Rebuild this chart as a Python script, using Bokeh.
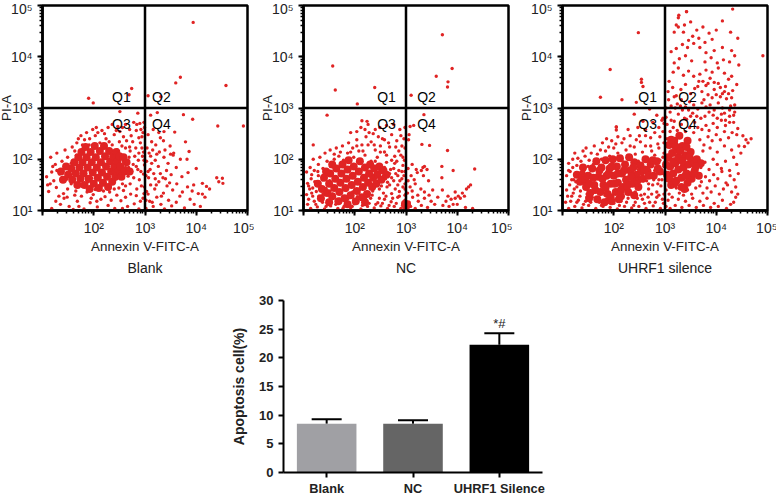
from bokeh.plotting import figure
from bokeh.layouts import column, row
from bokeh.models import Span, Spacer, Title, Whisker, ColumnDataSource, FixedTicker, LogTicker, Range1d, FactorRange
from bokeh.core.properties import value
from bokeh.embed import file_html
from bokeh.resources import INLINE

# Flow cytometry events as (log10 Annexin, log10 PI) in hundredths
blank_events = [
(118,104),(135,112),(152,108),(168,118),(181,103),(193,115),(207,107),(214,122),(228,110),(241,104),(253,119),(266,108),(279,113),(288,103),(296,124),(148,126),(176,128),(199,131),(222,127),(245,130),(262,126),(283,129),
(112,137),(127,145),(141,133),(156,152),(165,138),(178,147),(189,156),(203,141),(216,150),(231,136),(237,155),(249,144),(258,139),(271,152),(284,142),(293,148),(298,133),(122,158),(147,161),(172,160),(196,163),(225,165),(244,162),(267,167),(289,160),
(108,166),(118,175),(133,171),(143,182),(154,168),(161,178),(169,188),(184,172),(211,176),(234,180),(252,172),(262,184),(274,176),(286,180),(297,171),(125,190),(138,196),(149,204),(156,192),(166,208),(258,195),(269,204),(277,190),(287,198),(295,206),(299,189),
(116,204),(128,212),(144,218),(158,224),(167,232),(176,214),(182,238),(191,228),(203,246),(212,232),(224,240),(236,228),(246,218),(255,226),(264,236),(271,216),(282,222),(291,232),(297,214),(175,246),(186,252),(198,258),(216,256),(228,262),(240,248),(251,254),(262,268),(273,246),(283,256),(294,244),(299,262),
(205,262),(221,250),(236,268),(247,264),(258,244),(278,272),(290,270),(180,222),(196,216),(270,224),(288,212),
(302,104),(309,118),(316,108),(323,126),(331,112),(338,103),(346,120),(352,109),(361,116),(368,128),(377,105),(388,122),(396,112),(408,108),(417,126),(404,133),(392,138),
(303,137),(311,150),(319,142),(327,156),(336,134),(343,148),(354,140),(362,152),(373,136),(383,146),(395,150),(412,132),(426,142),
(302,168),(310,180),(317,172),(326,186),(335,164),(342,178),(351,170),(361,184),(372,166),(384,174),
(303,196),(311,206),(320,198),(328,214),(337,204),(345,192),(355,208),(304,222),(313,234),(321,228),(330,242),(339,218),(349,226),(306,248),(316,258),(327,252),(336,236),
(394,467),(369,360),(360,349),(458,344),(190,319),(199,310),(274,338),(269,326),(306,324),(331,322),(251,293),(286,290),(311,286),(324,291),(375,287),(393,278),(442,265),(492,265),(358,253),(337,254),(379,234),(386,215),(369,200),(400,182),(440,164),(451,163),(444,156),(452,153),(412,153),(420,147),(356,212),(350,210),(382,200),
(126,118),(142,124),(160,102),(163,130),(187,136),(206,118),(219,138),(234,120),(256,104),(272,132),(291,118),(299,146),(115,152),(132,128),(149,142),(171,108),(195,124),(240,142),(262,148),(278,164),(292,176),(280,206),(268,184),(250,234),(262,222),(276,234),(288,242),(294,222),(298,198),(283,186),(256,152),(241,172),(120,186),(136,160),(150,172),(128,178),(110,150),(163,216),(178,228),(170,240),(192,240),(208,252),(230,234),(244,256),(256,262),(270,258),(284,268),(296,252),(298,272),(292,258),(302,120),(306,132),(314,116),(320,162),(330,172),(340,162),(348,154),(306,176),(313,192),(322,150),(308,212),(315,218),(323,210),(307,164),(332,128),
]
blank_dense = [
(150,170),(156,182),(158,160),(162,194),(165,172),(168,150),(170,204),(172,184),(174,162),(176,214),(178,194),(180,172),(182,150),(184,224),(186,204),(188,184),(190,162),(192,142),(194,214),(196,194),(198,174),(200,152),(202,226),(204,204),(206,184),(208,164),(210,144),(212,216),(214,194),(216,174),(218,154),(220,226),(222,206),(224,186),(226,166),(228,146),(230,216),(232,196),(234,176),(236,156),(238,206),(240,186),(242,166),(244,214),(246,196),(248,176),(250,206),(252,186),(254,166),(258,204),(260,176),(264,194),(270,176),(146,186),(140,160),(136,176),
]
nc_events = [
(108,112),(114,104),(121,118),(127,107),(134,124),(141,103),(147,114),(153,109),(160,126),(167,104),(172,116),(179,108),(186,122),(192,105),(199,113),(205,127),(212,103),(218,116),(225,108),(231,124),(238,105),(245,115),(251,109),(258,122),(264,104),(271,117),(277,108),(284,126),(290,104),(296,114),(299,105),(298,120),
(106,131),(112,142),(118,128),(125,137),(131,148),(138,132),(144,143),(152,138),(158,147),(171,135),(183,139),(196,136),(209,141),(222,134),(235,138),(248,142),(256,134),(263,146),(272,133),(279,142),(287,137),(294,146),(299,131),
(108,153),(115,162),(122,156),(129,168),(137,160),(145,172),(151,158),(236,166),(247,158),(256,168),(264,155),(272,164),(280,172),(288,158),(296,168),(298,152),
(106,175),(113,184),(121,178),(129,190),(138,182),(146,196),(153,186),(160,200),(169,206),(178,198),(186,212),(198,204),(208,216),(220,208),(232,196),(244,204),(252,186),(262,194),(270,180),(278,192),(286,178),(294,188),(298,176),
(119,200),(132,204),(142,212),(152,218),(164,222),(176,226),(188,232),(196,222),(204,238),(214,228),(222,244),(232,234),(240,218),(250,226),(258,214),(268,224),(278,206),(286,216),(294,204),(298,222),
(192,252),(204,254),(212,262),(220,258),(236,250),(246,244),(258,238),(272,248),(282,236),(290,246),(296,240),(214,275),(226,268),(249,262),(262,266),(276,268),(288,258),(298,262),
(302,104),(306,116),(309,108),(313,126),(318,104),(324,118),(330,110),(336,124),(342,106),(349,118),(356,112),(362,126),(303,134),(308,146),(312,138),(318,152),(323,130),(329,142),(336,136),(345,130),(352,140),(304,158),(310,168),(316,160),(322,174),(334,168),(344,158),(304,182),(312,190),(320,180),(330,178),(333,184),(336,186),(341,180),
(372,110),(378,118),(384,108),(388,122),(392,112),(396,124),(402,128),(406,124),(410,134),(414,128),(418,142),(422,146),(426,150),(400,112),(416,106),(430,104),(396,136),(382,128),(371,140),(370,164),
(371,443),(157,382),(390,377),(359,362),(382,351),(381,341),(162,335),(239,340),(310,325),(205,308),(146,286),(335,287),(308,264),(315,266),(224,274),(119,228),(381,217),(434,181),(392,178),(370,186),(346,227),(331,229),(306,248),(305,238),
(110,122),(116,134),(124,112),(130,128),(137,116),(144,108),(150,120),(156,132),(163,112),(170,122),(177,104),(183,116),(189,128),(195,108),(202,120),(208,134),(215,110),(221,124),(228,114),(234,130),(241,112),(248,124),(254,114),(261,128),(267,110),(274,124),(281,114),(287,128),(293,110),(298,130),(110,148),(118,144),(126,156),(134,146),(140,168),(148,150),(128,176),(116,170),(240,150),(252,148),(260,162),(268,150),(276,158),(284,150),(292,162),(298,142),(248,176),(258,184),(268,172),(276,182),(284,168),(292,176),(240,196),(250,214),(262,208),(272,198),(282,196),(290,208),(297,198),(184,198),(172,214),(160,210),(192,214),(204,226),(216,216),(226,228),(238,228),(254,240),(266,232),(280,224),(292,226),(228,252),(240,258),
]
nc_dense = [
(128,152),(136,142),(140,164),(146,134),(150,152),(152,172),(156,128),(160,144),(162,162),(164,182),(168,118),(170,136),(172,154),(174,172),(176,190),(180,124),(182,144),(184,162),(186,180),(188,198),(192,130),(194,150),(196,168),(198,186),(202,118),(204,138),(206,156),(208,176),(210,196),(214,126),(216,146),(218,164),(220,184),(224,132),(226,154),(228,172),(230,190),(234,146),(236,164),(238,182),(242,152),(244,170),(248,186),(252,160),(256,178),(262,170),(134,124),(150,116),(186,112),(220,116),(300,108),(298,113),(302,112),(144,176),(156,190),
]
uhrf1_events = [
(106,116),(112,104),(118,128),(124,108),(131,120),(138,105),(145,118),(151,110),(158,126),(165,104),(172,116),(179,108),(186,122),(193,106),(200,114),(207,103),(214,118),(221,108),(228,124),(235,105),(242,116),(249,108),(256,122),(263,104),(270,116),(277,109),(284,126),(291,104),(297,114),
(108,140),(114,150),(121,134),(128,146),(135,138),(142,152),(148,132),(242,136),(252,146),(260,132),(268,142),(276,150),(284,136),(292,148),(298,132),
(108,168),(115,176),(122,160),(130,172),(137,182),(144,164),(150,186),(245,162),(256,172),(264,158),(272,168),(280,178),(288,160),(296,172),(298,186),
(112,192),(120,200),(128,188),(136,196),(144,206),(152,198),(160,190),(168,210),(176,200),(184,216),(192,206),(200,222),(208,212),(216,198),(224,218),(232,206),(240,224),(248,196),(256,214),(264,202),(272,226),(280,208),(288,222),(296,204),(298,232),
(124,212),(146,222),(162,226),(178,232),(186,240),(196,236),(208,244),(220,240),(232,246),(244,238),(252,234),(262,246),(272,242),(280,252),(290,244),(296,254),(205,257),(228,258),(247,262),(262,258),(276,272),(288,262),(294,276),
(205,263),(240,288),(257,274),(270,298),(284,286),(296,280),(298,270),
(302,108),(306,120),(310,104),(314,126),(320,110),(326,122),(333,106),(340,118),(347,110),(354,124),(361,106),(368,118),(375,110),(382,124),(389,106),(396,114),(404,108),(412,120),(420,104),(428,112),(434,116),(438,126),
(374,134),(382,144),(390,136),(398,148),(406,132),(414,142),(422,150),(430,136),(438,146),(442,132),(371,156),(379,166),(387,158),(395,170),(403,162),(411,176),(419,154),(427,168),(435,160),(443,172),
(370,184),(378,194),(386,180),(394,200),(402,190),(410,182),(418,196),(426,178),(434,204),(440,190),(448,212),(455,225),(462,232),(468,240),(444,226),(430,218),(416,226),(402,214),(388,222),(374,216),
(368,238),(376,228),(384,244),(392,236),(400,248),(408,238),(416,254),(424,242),(431,252),(440,248),(452,246),(458,238),(372,258),(380,266),(386,256),(394,270),(402,262),(410,276),(418,266),(426,284),(434,272),(442,260),(302,282),(310,292),(318,274),(326,288),(334,296),(342,278),(350,284),(358,272),
(302,300),(307,316),(312,304),(318,322),(324,308),(332,316),(340,302),(348,312),(356,306),(364,298),(372,310),(380,302),(388,306),(396,296),(404,310),(412,300),(420,318),(428,304),(436,292),(426,296),(416,290),(436,306),
(306,332),(315,340),(322,324),(331,336),(340,346),(350,328),(358,338),(366,352),(372,332),(380,344),(388,358),(396,336),(404,348),(412,328),(418,342),(424,356),(432,334),(440,346),(430,362),(416,368),(404,378),(392,370),(380,374),(368,366),(356,362),(346,372),(336,364),(326,378),(316,370),
(378,390),(390,398),(402,388),(414,394),(426,390),(436,402),(352,392),(340,402),(328,396),(318,388),(308,352),(444,384),(430,412),(412,418),(396,412),(380,408),(368,418),(356,426),(344,418),(334,424),(322,416),(312,410),(392,434),(378,428),(366,436),(354,440),(346,432),(336,448),(326,458),(338,462),(350,468),(362,452),(374,458),(386,446),(400,452),(412,470),(428,448),(442,436),(326,476),(322,462),(342,488),(318,448),
(248,447),(193,375),(174,321),(216,316),(244,311),(254,356),(254,350),(257,342),(491,402),(432,493),(342,488),(327,481),(205,263),
(110,128),(116,118),(123,142),(128,116),(134,128),(141,112),(148,126),(155,116),(162,136),(169,124),(176,110),(183,130),(190,116),(197,126),(204,134),(211,110),(218,128),(225,116),(232,132),(239,110),(246,124),(253,130),(260,114),(267,126),(274,132),(281,116),(288,130),(295,122),
(118,160),(126,156),(134,168),(142,178),(112,178),(120,184),(246,150),(258,158),(268,152),(278,160),(286,152),(294,160),(248,180),(256,190),(266,184),(274,194),(282,170),(290,198),(298,212),(286,230),(274,216),(262,226),(250,246),(242,210),(232,226),(216,232),(204,230),(190,224),(174,218),(156,212),(140,216),(130,202),
(302,140),(308,132),(314,148),(322,144),(328,134),(336,130),(344,140),(352,132),(360,144),(368,148),(304,160),(312,154),(304,240),(310,254),(316,262),(324,256),(332,268),(340,254),(348,262),(356,252),(364,262),(304,268),(312,276),(320,300),(330,304),(338,280),(346,296),(354,290),(362,284),(370,280),(378,284),(386,292),(394,286),(402,280),(410,288),(418,276),(426,272),(434,286),
(376,316),(384,326),(392,320),(400,326),(408,322),(416,332),(424,328),(430,320),(408,340),(396,350),(384,348),(374,352),(364,342),
]
uhrf1_dense = [
(128,170),(134,156),(140,184),(146,146),(150,168),(154,134),(158,182),(162,150),(166,196),(168,122),(170,166),(174,136),(176,184),(180,150),(182,116),(184,198),(186,168),(188,132),(192,182),(194,152),(196,118),(198,200),(200,168),(204,136),(206,186),(208,154),(212,202),(214,128),(216,172),(218,146),(222,190),(224,160),(228,136),(230,204),(232,178),(236,152),(240,194),(244,170),(248,146),(252,188),(256,162),(262,200),(266,176),(272,190),(278,168),(284,196),(290,176),
(304,170),(306,204),(308,228),(310,186),(312,150),(314,212),(316,172),(318,236),(320,192),(322,158),(324,218),(326,180),(328,246),(330,200),(332,164),(334,226),(336,184),(338,142),(340,208),(342,172),(344,236),(346,190),(350,214),(352,162),(354,196),(358,178),(362,200),(366,168),(370,192),
(138,170),(144,160),(152,152),(160,164),(164,140),(172,178),(178,162),(184,144),(190,172),(194,126),(196,186),(202,152),(208,172),(214,140),(220,178),(226,148),(234,166),(238,184),(246,158),(254,176),(260,180),(268,168),(276,198),(286,182),(152,124),(210,122),(240,130),(302,190),(308,162),(316,196),(318,152),(326,204),(332,146),(334,196),(340,168),(344,154),(348,204),(356,172),(360,186),(320,226),(330,216),(342,224),(312,238),
]

annexin_ticks = [100, 1000, 10000, 100000]
pi_ticks = [10, 100, 1000, 10000, 100000]
tick_text = {10: "10¹", 100: "10²", 1000: "10³", 10000: "10⁴", 100000: "10⁵"}
x_title = "Annexin V-FITC-A"
y_title = "PI-A"
panel_names = ["Blank", "NC", "UHRF1 silence"]
quadrant_names = ["Q1", "Q2", "Q3", "Q4"]

groups = ["Blank", "NC", "UHRF1 Silence"]
apoptosis = [8.5, 8.5, 22.3]
apoptosis_top = [9.3, 9.1, 24.3]
bar_colors = ["#a0a0a4", "#656565", "#000000"]

FONT = "Liberation Sans"
RED = "#e02424"


def panel(events, dense, name, left, right, qx):
    p = figure(x_axis_type="log", y_axis_type="log",
               x_range=Range1d(10, 100000), y_range=Range1d(10, 100000),
               frame_width=205, frame_height=205,
               min_border_left=left, min_border_right=right, min_border_top=5, min_border_bottom=75,
               output_backend="svg", toolbar_location=None)
    p.grid.visible = False
    p.outline_line_color = "black"
    p.outline_line_width = 2.5
    p.xaxis.ticker = LogTicker(num_minor_ticks=10)
    p.yaxis.ticker = LogTicker(num_minor_ticks=10)
    p.xaxis.major_label_overrides = {10: "", **{k: tick_text[k] for k in annexin_ticks}}
    p.yaxis.major_label_overrides = {k: tick_text[k] for k in pi_ticks}
    for ax in (p.xaxis[0], p.yaxis[0]):
        ax.axis_line_color = "black"
        ax.axis_line_width = 2.5
        ax.major_tick_line_color = "black"
        ax.major_tick_line_width = 2
        ax.major_tick_out = 5
        ax.major_tick_in = 0
        ax.minor_tick_line_color = "black"
        ax.minor_tick_line_width = 1.5
        ax.minor_tick_out = 3
        ax.minor_tick_in = 0
        ax.major_label_text_font = FONT
        ax.major_label_text_font_size = "14px"
        ax.major_label_text_color = "#222222"
        ax.axis_label_text_font = FONT
        ax.axis_label_text_font_style = "normal"
        ax.axis_label_text_font_size = "13.4px"
        ax.axis_label_text_color = "#222222"
    p.xaxis.major_label_standoff = 4
    p.yaxis.major_label_standoff = 5
    p.xaxis.axis_label = x_title
    p.xaxis.axis_label_standoff = 0
    p.yaxis.axis_label = y_title
    p.yaxis.axis_label_standoff = -6
    p.yaxis.major_label_orientation = "horizontal"
    p.add_layout(Title(text=name, align="center", text_font=FONT, text_font_size="14px",
                       text_font_style="normal", text_color="#222222", standoff=2), "below")

    dx = [10 ** (a / 100) for a, _ in dense]
    dy = [10 ** (b / 100) for _, b in dense]
    p.scatter(dx, dy, size=8, color=RED, line_color=None)
    ex = [10 ** (a / 100) for a, _ in events]
    ey = [10 ** (b / 100) for _, b in events]
    p.scatter(ex, ey, size=3.4, color=RED, line_color=None)

    p.add_layout(Span(location=1000, dimension="width", line_color="black", line_width=2.5))
    p.add_layout(Span(location=1000, dimension="height", line_color="black", line_width=2.5))
    lx = [10 ** qx[0], 10 ** qx[1], 10 ** qx[0], 10 ** qx[1]]
    ly = [10 ** 3.22, 10 ** 3.22, 10 ** 2.68, 10 ** 2.68]
    p.text(lx, ly, text=quadrant_names, text_font=value(FONT), text_font_size="14px",
           text_color="black", text_align="center", text_baseline="middle")
    return p


p1 = panel(blank_events, blank_dense, panel_names[0], 42, 7, (2.54, 3.32))
p1.margin = (0, 0, 0, -5)
p2 = panel(nc_events, nc_dense, panel_names[1], 49, 4, (2.62, 3.40))
p3 = panel(uhrf1_events, uhrf1_dense, panel_names[2], 50, 10, (2.66, 3.44))

bar = figure(x_range=FactorRange(factors=groups, range_padding=0, factor_padding=0, group_padding=0),
             y_range=Range1d(0, 30),
             frame_width=259, frame_height=172,
             min_border_left=93, min_border_right=10, min_border_top=15, min_border_bottom=23,
             output_backend="svg", toolbar_location=None)
bar.grid.visible = False
bar.outline_line_color = None
source = ColumnDataSource(dict(g=groups, v=apoptosis, t=apoptosis_top, c=bar_colors))
bar.vbar(x="g", top="v", width=0.69, color="c", line_color=None, source=source)
bar.add_layout(Whisker(base="g", lower="v", upper="t", source=source, line_color="black", line_width=2,
                       upper_head=None, lower_head=None))
bar.dash(x="g", y="t", size=30, line_width=2, color="black", source=source)
bar.text(["UHRF1 Silence"], [26.0], text=["*#"], text_font=value(FONT), text_font_size="13px",
         text_color="#222222", text_align="center", text_baseline="middle")
bar.yaxis.ticker = FixedTicker(ticks=[0, 5, 10, 15, 20, 25, 30])
bar.yaxis.axis_label = "Apoptosis cell(%)"
for ax in (bar.xaxis[0], bar.yaxis[0]):
    ax.axis_line_color = "black"
    ax.axis_line_width = 2
    ax.major_tick_line_color = "black"
    ax.major_tick_line_width = 2
    ax.major_tick_out = 5
    ax.major_tick_in = 0
    ax.minor_tick_line_color = None
    ax.major_label_text_font = FONT
    ax.major_label_text_font_style = "bold"
    ax.major_label_text_color = "#222222"
    ax.axis_label_text_font = FONT
    ax.axis_label_text_font_style = "bold"
    ax.axis_label_text_color = "#222222"
bar.yaxis.major_label_text_font_size = "13px"
bar.xaxis.major_label_text_font_size = "12.8px"
bar.yaxis.axis_label_text_font_size = "14px"
bar.yaxis.axis_label_standoff = 9
bar.xaxis.major_label_standoff = 3

layout = column(row(p1, p2, p3), row(Spacer(width=190, height=210), bar), margin=0)
open("out.html", "w").write(file_html(layout, INLINE))
